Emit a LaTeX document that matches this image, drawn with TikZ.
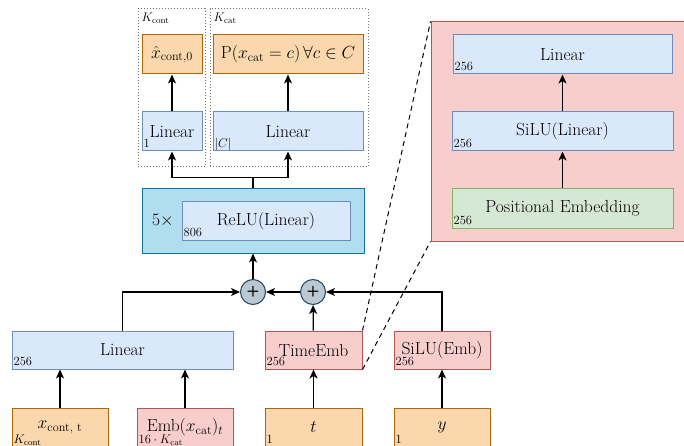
\RequirePackage{fix-cm}
\documentclass[tikz,border=0pt]{standalone}
\usepackage{amsmath}
\usetikzlibrary{arrows.meta}
\definecolor{bfill}{HTML}{DAE8FC}\definecolor{bdraw}{HTML}{6C8EBF}
\definecolor{ofill}{HTML}{FAD7AC}\definecolor{odraw}{HTML}{B46504}
\definecolor{rfill}{HTML}{F8CECC}\definecolor{rdraw}{HTML}{B85450}
\definecolor{gfill}{HTML}{D5E8D4}\definecolor{gdraw}{HTML}{82B366}
\definecolor{cfill}{HTML}{B1DDF0}\definecolor{cdraw}{HTML}{10739E}
\definecolor{pfill}{HTML}{BAC8D3}\definecolor{pdraw}{HTML}{23445D}
\newcommand\mainfs{\fontsize{17.5}{20}\selectfont}
\newcommand\smallfs{\fontsize{12.5}{14}\selectfont}
\tikzset{
  box/.style={draw, line width=1pt, minimum height=39pt, inner sep=0pt, font=\mainfs},
  bluebox/.style={box, fill=bfill, draw=bdraw},
  orangebox/.style={box, fill=ofill, draw=odraw},
  redbox/.style={box, fill=rfill, draw=rdraw},
  greenbox/.style={box, fill=gfill, draw=gdraw},
  dotbox/.style={draw=black!55, dotted, line width=1pt, inner sep=0pt},
  lbl/.style={font=\smallfs, inner sep=0pt, anchor=base west, xshift=2pt, yshift=4pt},
  toplbl/.style={font=\smallfs, inner sep=4pt, anchor=north west},
  plus/.style={circle, draw=pdraw, fill=pfill, line width=1pt, minimum size=25pt, inner sep=0pt, font=\sffamily\bfseries\fontsize{15}{15}\selectfont},
  arr/.style={line width=1.3pt, -{Stealth[length=9pt,width=8pt,inset=2.5pt]}},
  dsh/.style={line width=1pt, dash pattern=on 5pt off 4pt},
}
\begin{document}
\begin{tikzpicture}[x=1pt,y=-1pt]
\useasboundingbox (0,0) rectangle (684,446);
% dotted groups
\node[dotbox, minimum width=67pt, minimum height=158pt] (dcont) at (171.5,88) {};
\node[dotbox, minimum width=158pt, minimum height=158pt] (dcat) at (289,88) {};
\node[toplbl] (kcont) at (dcont.north west) {$K_{\text{cont}}$};
\node[toplbl] (kcat) at (dcat.north west) {$K_{\text{cat}}$};
% outputs
\node[orangebox, minimum width=60pt] (xhat) at (172,54.5) {$\hat{x}_{\text{cont},0}$};
\node[orangebox, minimum width=150pt] (pcat) at (288,54.5) {$\mathrm{P}(x_{\text{cat}}=c)\,\forall c\in C$};
\node[bluebox, minimum width=60pt] (lin1) at (172,131.5) {Linear};
\node[lbl] (lin1l) at (lin1.south west) {1};
\node[bluebox, minimum width=150pt] (lin2) at (288,131.5) {Linear};
\node[lbl] (lin2l) at (lin2.south west) {$|C|$};
% relu block
\node[box, fill=cfill, draw=cdraw, minimum width=222pt, minimum height=64pt] (relu) at (253,221) {};
\node[bluebox, minimum width=168pt, minimum height=38pt] (relui) at (266,221) {ReLU(Linear)};
\node[lbl] (reluil) at (relui.south west) {806};
\node[font=\mainfs, inner sep=0pt] (five) at (163,221) {$5\times$};
% sums
\node[plus] (plusL) at (253,292) {+};
\node[plus] (plusR) at (313,292) {+};
% middle row
\node[bluebox, minimum width=221pt, minimum height=38pt] (linB) at (122.5,350) {Linear};
\node[lbl] (linBl) at (linB.south west) {256};
\node[redbox, minimum width=97pt, minimum height=38pt] (temb) at (313.5,350) {TimeEmb};
\node[lbl] (tembl) at (temb.south west) {256};
\node[redbox, minimum width=96pt, minimum height=38pt] (silue) at (442,350) {SiLU(Emb)};
\node[lbl] (siluel) at (silue.south west) {256};
% inputs
\node[orangebox, minimum width=96pt] (xcont) at (60,427.5) {$x_{\text{cont, t}}$};
\node[lbl] (xcontl) at (xcont.south west) {$K_{\text{cont}}$};
\node[redbox, minimum width=96pt] (emb) at (185,427.5) {$\mathrm{Emb}(x_{\text{cat}})_t$};
\node[lbl] (embl) at (emb.south west) {$16\cdot K_{\text{cat}}$};
\node[orangebox, minimum width=97pt] (tn) at (313.5,427.5) {$t$};
\node[lbl] (tnl) at (tn.south west) {1};
\node[orangebox, minimum width=96pt] (yn) at (442,427.5) {$y$};
\node[lbl] (ynl) at (yn.south west) {1};
% panel
\node[box, fill=rfill, draw=rdraw, minimum width=262pt, minimum height=219pt] (panel) at (562,131.5) {};
\node[bluebox, minimum width=219pt] (p1) at (562.5,54.5) {Linear};
\node[lbl] (p1l) at (p1.south west) {256};
\node[bluebox, minimum width=221pt] (p2) at (562.5,131.5) {SiLU(Linear)};
\node[lbl] (p2l) at (p2.south west) {256};
\node[greenbox, minimum width=221pt] (p3) at (562.5,208.5) {Positional Embedding};
\node[lbl] (p3l) at (p3.south west) {256};
% connectors
\draw[arr] (lin1) -- (xhat);
\draw[arr] (lin2) -- (pcat);
\draw[arr] (relu.north) -- ++(0,-11) -| (lin1.south);
\draw[arr] (relu.north) -- ++(0,-11) -| (lin2.south);
\draw[arr] (plusL) -- (relu);
\draw[arr] (plusR) -- (plusL);
\draw[arr] (linB.north) |- (plusL.west);
\draw[arr] (temb) -- (plusR);
\draw[arr] (silue.north) |- (plusR.east);
\draw[arr] (xcont.north) -- (xcont.north |- linB.south);
\draw[arr] (emb.north) -- (emb.north |- linB.south);
\draw[arr] (tn) -- (temb);
\draw[arr] (yn) -- (silue);
\draw[arr] (p3) -- (p2);
\draw[arr] (p2) -- (p1);
\draw[dsh] (temb.north east) -- (panel.north west);
\draw[dsh] (temb.south east) -- (panel.south west);
\end{tikzpicture}
\end{document}
